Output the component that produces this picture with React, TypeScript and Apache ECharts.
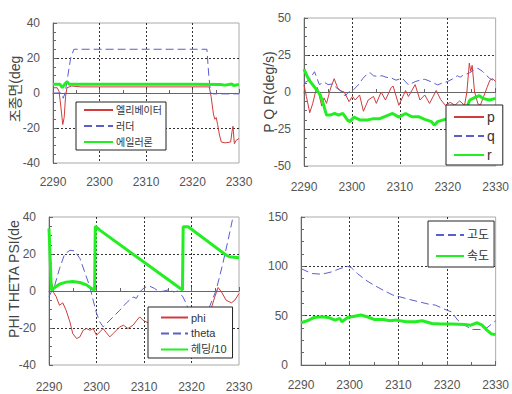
import React, { useEffect, useRef } from "react";
import * as echarts from "echarts";

type P = [number, number][];

// Panel 1: control surfaces (deg)
const elevator: P = [[2290, 3], [2290.9, 3], [2291.3, 1], [2291.7, -8], [2292.1, -18], [2292.4, -14], [2292.7, -2], [2293.0, 3], [2294, 4], [2296, 3.5], [2300, 3.5], [2310, 3.5], [2320, 3.5], [2323.6, 3.5], [2324.0, -2], [2324.5, -12], [2324.8, -15], [2325.1, -14], [2325.4, -18], [2325.8, -24], [2326.2, -28], [2327, -28.5], [2328.2, -28], [2328.5, -22], [2328.7, -19], [2329.0, -29], [2329.4, -27], [2330, -26]];
const rudder: P = [[2290, 0], [2291.8, 0], [2292.2, -3], [2292.6, 0], [2293.2, 10], [2293.8, 20], [2294.5, 25], [2323.1, 25], [2323.5, 10], [2323.9, 0], [2324.5, -0.5], [2330, -0.5]];
const aileron: P = [[2290, 5], [2291.5, 5], [2292, 3], [2292.5, 5], [2293, 6.5], [2293.5, 5], [2300, 5], [2310, 5], [2320, 5], [2326, 4.8], [2327, 4.5], [2328.5, 5.2], [2328.8, 4.3], [2330, 4.8]];

// Panel 2: body rates (deg/s)
const pRate: P = [[2290, 4.8], [2290.5, -3], [2291.2, -14], [2291.8, -8], [2292.4, 0], [2292.8, 3], [2293.7, -9.5], [2294.2, -4], [2294.7, -7.7], [2295.5, 2], [2296.3, 9], [2297.0, 3], [2297.5, 1], [2298.4, 0], [2299.4, -6.5], [2300.1, -3], [2300.7, -5.4], [2301.6, -2], [2302.4, -13], [2303.4, -5.4], [2304.5, -3], [2305.1, -7.7], [2306.1, 0], [2307, -5.4], [2308.2, 3], [2308.6, 4], [2309.8, -9], [2311.2, 1], [2311.8, -3], [2313.2, 5], [2314.2, -5.4], [2315.2, -2], [2316.2, -7.7], [2317.6, 1], [2318.5, -5], [2319.5, -9], [2320.5, -7], [2321.5, -9], [2322.5, -6], [2323.5, -9], [2324.0, 0], [2324.5, 19.5], [2324.8, 14], [2325.1, 18], [2325.6, 0], [2326.3, -8], [2326.8, -9], [2327.5, -3], [2328.2, 3], [2328.8, 8], [2329.4, 9], [2330, 7]];
const qRate: P = [[2290, 6], [2291, 8], [2292.2, 13.7], [2293.2, 5], [2294.2, 6.7], [2295.0, 5], [2295.9, 5.4], [2296.9, 2.5], [2297.9, 0.2], [2298.6, -2.7], [2299.3, 0], [2300.3, 1.4], [2301.3, 4.7], [2302.3, 9.2], [2303.3, 12.6], [2303.8, 13], [2304.5, 11], [2305.3, 10.5], [2306.3, 11], [2307.1, 10], [2308.2, 9.5], [2309.2, 8], [2310.5, 9.3], [2311.8, 4.8], [2313.2, 7], [2314.2, 8], [2315.2, 8.6], [2316.5, 7], [2317.9, 4.8], [2318.8, 6], [2319.9, 7], [2321.3, 9.3], [2322, 11], [2322.6, 10], [2323.3, 11.5], [2324.6, 13], [2325.3, 14.5], [2326.3, 16], [2327.3, 13.8], [2328.7, 9.3], [2330, 7]];
const rRate: P = [[2290, 15.4], [2290.6, 11], [2291.3, 7], [2292.4, 2.5], [2293.4, -2], [2294, -7.7], [2294.7, -15.6], [2295.5, -15.6], [2296.4, -14.5], [2297.2, -15.6], [2298.1, -14.5], [2299.1, -19], [2299.6, -20], [2300.4, -17], [2301.1, -18], [2301.8, -19], [2303.1, -19], [2304.5, -18], [2305.8, -18], [2307.1, -16.3], [2308.5, -14.5], [2309.8, -17], [2311.2, -14.5], [2312.5, -16.7], [2313.9, -16.7], [2315.2, -18.5], [2316.6, -20], [2317.2, -22.4], [2317.9, -20], [2318.9, -19], [2320, -18], [2321.5, -17], [2323, -14], [2324, -10], [2324.6, -5.4], [2325.5, -4], [2326.6, -2.5], [2327.3, -4.3], [2328.7, -5.4], [2330, -4.3]];

// Panel 3: attitude
const phi: P = [[2290.3, 7], [2290.6, 4], [2291.0, -1], [2291.5, -3], [2292.2, -7.7], [2292.9, -6.4], [2293.6, -10.4], [2294.4, -16.7], [2295, -23], [2295.8, -25.7], [2296.5, -24.8], [2297.2, -21.2], [2297.9, -20.3], [2298.6, -21.2], [2299.3, -20.3], [2300, -23.9], [2300.7, -22.1], [2301.4, -20.3], [2302.1, -22.6], [2302.8, -24.8], [2303.5, -23], [2304.2, -21.2], [2304.9, -19.4], [2305.7, -18.5], [2306.6, -20.3], [2307.7, -18.5], [2308.4, -16.1], [2309.1, -14], [2309.8, -15.8], [2310.5, -16.7], [2311.5, -18], [2313, -20], [2315, -18], [2317, -20], [2319, -18], [2321, -20], [2323, -16], [2324.2, -9], [2324.9, -3.2], [2325.6, 1.9], [2326.3, -0.5], [2327.3, -5], [2328.4, -6.4], [2329.1, -5], [2330, -1.4]];
const theta: P = [[2290, -3], [2291.2, 3], [2292.2, 12], [2293.3, 20], [2294.4, 22], [2295.4, 21.7], [2296.5, 17.6], [2297.5, 10.4], [2298.6, 2.3], [2299.3, -5], [2300, -12], [2300.7, -16.7], [2301.4, -19.4], [2302.1, -17.6], [2303.5, -14], [2304.9, -10.4], [2306.3, -6.4], [2307.7, -3.2], [2308.4, -4], [2309.1, -0.5], [2310.1, 1.9], [2311.2, 2.6], [2312.2, 1.4], [2313.3, -0.5], [2314.4, 0.1], [2315.4, 0.8], [2316.2, -0.5], [2317.2, 0], [2318.2, -3.2], [2318.9, -6.8], [2320, -15], [2321.5, -20], [2323, -15], [2323.8, -8.5], [2325.2, 0.5], [2326.6, 14.9], [2327.7, 27.5], [2328.6, 38.3], [2329.2, 48]];
const heading10: P = [[2290, 33.8], [2290.5, 0.5], [2291.2, 1.9], [2292.2, 3.7], [2293.6, 4.8], [2295, 5.1], [2296.5, 4.6], [2297.9, 3.3], [2298.9, 1.4], [2299.6, 0.5], [2299.75, 35], [2300.7, 32.9], [2318.1, 0.5], [2318.25, 34.7], [2319.3, 34.7], [2327.3, 19.4], [2328, 18.5], [2330, 18]];

// Panel 4: altitude / speed
const altitude: P = [[2290, 97.7], [2291, 95.4], [2292.3, 92.7], [2294.3, 92], [2296.3, 94.4], [2298, 97.7], [2299.6, 100], [2300.3, 98.8], [2301.6, 92.7], [2303.3, 86], [2305, 80.9], [2306.9, 75.8], [2308.9, 70.8], [2310.3, 69.1], [2312.3, 66.4], [2314.3, 64], [2316.2, 61.7], [2317.6, 60.7], [2319.6, 56.3], [2320.9, 53.9], [2322.2, 45.5], [2323.6, 40.4], [2325.2, 36], [2326.9, 36], [2328.2, 37.7], [2330, 44.8]];
const speed: P = [[2290, 42.8], [2291.3, 44.8], [2292.7, 48.2], [2294.3, 48.9], [2295.6, 48.2], [2297, 45.5], [2298, 47.2], [2298.4, 43.8], [2299.6, 48.2], [2301, 49.5], [2302.3, 50.6], [2303.6, 48.9], [2305, 46.2], [2306.9, 46.2], [2308.3, 44.8], [2309.6, 45.5], [2311.6, 43.8], [2313.5, 43.8], [2314.9, 44.8], [2316.9, 42.1], [2318.9, 41.5], [2320.9, 41.5], [2323.6, 41.1], [2324.9, 40.4], [2326.2, 42.8], [2327.2, 40.4], [2328.2, 35.4], [2329.2, 31.3], [2330, 31]];

const yRanges: [number, number, number][] = [[-40, 40, 20], [-50, 50, 25], [-40, 40, 20], [0, 150, 50]];
const yTitles = ["조종면(deg", "P Q R(deg/s)", "PHI THETA PSI(de", ""];
const legendNames = [["엘리베이터", "러더", "에일러론"], ["p", "q", "r"], ["phi", "theta", "헤딩/10"], ["고도", "속도"]];

const FONT = '"Liberation Sans", Arial, sans-serif';
const KFONT = '"Liberation Sans", "Noto Sans CJK KR", sans-serif';
const RED = "#d03c3c";
const BLUE = "#5a5fcc";
const GREEN = "#22ee22";

export default function App() {
  const ref = useRef<HTMLDivElement>(null);
  useEffect(() => {
    if (!ref.current) return;
    const chart = echarts.init(ref.current, undefined, { renderer: "svg" });
    const grids = [
      { left: 53, top: 23, width: 186, height: 140 },
      { left: 304, top: 18, width: 199, height: 148 },
      { left: 49, top: 217, width: 190, height: 148 },
      { left: 301, top: 217, width: 201, height: 148 },
    ];
    const xMargins = [13, 15, 16, 14];
    const xAxis = grids.map((_, i) => ({
      type: "value", gridIndex: i, min: 2290, max: 2330, interval: 10,
      axisLine: { show: true, lineStyle: { color: "#666" } },
      axisTick: { show: true, inside: true, length: 4, lineStyle: { color: "#666" } },
      minorTick: { show: true, splitNumber: 2, length: 3, lineStyle: { color: "#666" } },
      axisLabel: { color: "#555", fontSize: 12, fontFamily: FONT, margin: xMargins[i], showMinLabel: true, showMaxLabel: true, formatter: (v: number) => String(v) },
      splitLine: { show: true, showMinLine: false, showMaxLine: false, lineStyle: { type: [2, 2], color: "#333", width: 1 } },
    }));
    const yAxis = grids.map((_, i) => ({
      type: "value", gridIndex: i, min: yRanges[i][0], max: yRanges[i][1], interval: yRanges[i][2],
      axisLine: { show: true, lineStyle: { color: "#666" } },
      axisTick: { show: true, inside: true, length: 4, lineStyle: { color: "#666" } },
      minorTick: { show: true, splitNumber: 4, length: 3, lineStyle: { color: "#666" } },
      axisLabel: { color: "#555", fontSize: 12, fontFamily: FONT, margin: 13 },
      splitLine: { show: true, showMinLine: false, showMaxLine: false, lineStyle: { type: [2, 2], color: "#333", width: 1 } },
    }));
    const mk = (name: string, data: P, idx: number, kind: "red" | "blue" | "green") => ({
      name, type: "line", xAxisIndex: idx, yAxisIndex: idx, data, symbol: "none", showSymbol: false,
      clip: true,
      lineStyle: kind === "red" ? { color: RED, width: 1 } : kind === "blue" ? { color: BLUE, width: 1, type: [8, 4] } : { color: GREEN, width: 3 },
      itemStyle: { color: kind === "red" ? RED : kind === "blue" ? BLUE : GREEN },
      z: kind === "green" ? 3 : 2,
    });
    const series = [
      mk("엘리베이터", elevator, 0, "red"), mk("러더", rudder, 0, "blue"), mk("에일러론", aileron, 0, "green"),
      mk("p", pRate, 1, "red"), mk("q", qRate, 1, "blue"), mk("r", rRate, 1, "green"),
      mk("phi", phi, 2, "red"), mk("theta", theta, 2, "blue"), mk("헤딩/10", heading10, 2, "green"),
      mk("고도", altitude, 3, "blue"), mk("속도", speed, 3, "green"),
    ];
    const legendPos = [
      { left: 76, top: 102, itemWidth: 29, itemHeight: 12, itemGap: 6, padding: [3, 4, 3, 7], fontSize: 10 },
      { left: 446, top: 105, itemWidth: 30, itemHeight: 14, itemGap: 5, padding: [5, 8, 3, 7], fontSize: 14 },
      { left: 148, top: 307, itemWidth: 27, itemHeight: 12, itemGap: 5, padding: [5, 6, 3, 12], fontSize: 11 },
      { left: 428, top: 221, itemWidth: 28, itemHeight: 14, itemGap: 9, padding: [8, 5, 5, 7], fontSize: 12 },
    ];
    const legend = legendPos.map((l, i) => ({
      show: true, orient: "vertical", left: l.left, top: l.top, data: legendNames[i],
      itemWidth: l.itemWidth, itemHeight: l.itemHeight, itemGap: l.itemGap, padding: l.padding,
      backgroundColor: "#fff", borderColor: "#222", borderWidth: 1, borderRadius: 0, z: 10,
      textStyle: { fontSize: l.fontSize, color: "#333", fontFamily: KFONT, padding: [0, 0, 0, -2] },
      itemStyle: { opacity: 0 }, selectedMode: false,
    }));
    const titlePos: [number, number][] = [[15, 89], [269, 92], [14, 279], [0, 0]];
    const graphic = yTitles.map((t, i) => t ? ({
      type: "text", x: titlePos[i][0], y: titlePos[i][1], rotation: Math.PI / 2,
      style: { text: t, fill: "#444", font: `14px ${KFONT}`, align: "center", verticalAlign: "middle" },
    }) : null).filter(Boolean);
    chart.setOption({
      animation: false,
      backgroundColor: "#fff",
      grid: grids.map((g) => ({ ...g, show: true, borderColor: "#aaa", borderWidth: 1, backgroundColor: "#fff", containLabel: false })),
      xAxis, yAxis, series, legend, graphic,
    } as any);
    return () => chart.dispose();
  }, []);
  return <div ref={ref} style={{ position: "absolute", left: 0, top: 0, width: 512, height: 394 }} />;
}
